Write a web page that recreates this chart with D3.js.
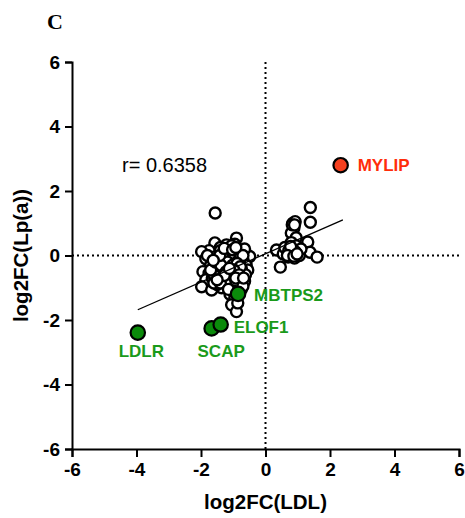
<!DOCTYPE html>
<html><head><meta charset="utf-8">
<script src="https://cdn.jsdelivr.net/npm/d3@7"></script>
<style>body{margin:0;background:#fff}svg{display:block}</style>
</head><body>
<script>
const xTicks = [-6,-4,-2,0,2,4,6];
const yTicks = [-6,-4,-2,0,2,4,6];
const openX = [-1.57,-1.21,-0.90,-0.95,-1.40,-1.75,-1.98,-1.10,-0.75,-0.60,-0.49,
 -1.85,-1.60,-1.35,-1.20,-1.00,-0.85,-0.70,-1.70,-1.50,-1.30,-1.10,-0.95,-0.80,-0.60,-0.55,
 -1.94,-1.75,-1.55,-1.40,-1.25,-1.05,-0.90,-0.70,-1.85,-1.65,-1.45,-1.30,-1.15,-1.00,-0.85,-0.65,
 -1.98,-1.67,-1.36,-1.50,-1.20,-1.05,-0.90,-0.75,-1.10,-0.95,-1.05,-0.90,-0.86,
 -1.20,-1.15,-1.00,-1.35,-1.25,-0.75,-1.60,-0.80,-1.40,-1.05,-0.65,-1.56,
 -1.45,-1.30,-1.15,-1.05,-0.95,-0.85,-0.80,-0.90,-1.10,-1.25,-1.45,-1.35,-1.20,-1.10,-0.95,
 -0.75,-1.60,-1.70,-1.55,-1.05,-0.90,-1.25,-1.40,-0.70,-0.85,-1.00,-1.15,-0.70,-0.62,-1.80,
 -1.32,-1.18,-1.02,-0.88,-0.78,-1.38,-1.22,-1.08,-0.98,-0.82,-1.28,-1.12,-0.92,-1.50,-1.42,-1.28,-1.02,-0.92,-0.68,-1.62,
 1.39,1.39,0.85,0.92,0.88,0.80,0.95,1.31,1.38,1.60,0.46,0.90,0.34,0.55,0.65,0.75,0.85,1.00,1.05,0.70,0.60,0.80,0.95,1.10,
 0.72,0.82,0.92,0.78,0.68,0.88,0.98,0.83,0.90];
const openY = [0.39,0.33,0.54,0.35,0.25,0.15,0.12,0.20,0.15,0.05,-0.03,
 -0.10,-0.05,0.05,-0.05,0.05,-0.05,-0.15,-0.30,-0.25,-0.20,-0.25,-0.20,-0.30,-0.30,-0.45,
 -0.50,-0.55,-0.45,-0.40,-0.45,-0.40,-0.50,-0.55,-0.75,-0.70,-0.65,-0.75,-0.60,-0.70,-0.75,-0.80,
 -0.97,-1.07,-1.00,-0.90,-0.90,-0.95,-1.00,-1.05,-1.20,-1.30,-1.53,-1.74,-1.47,
 -0.15,-0.35,-0.55,-0.55,-0.30,-0.40,-0.85,-0.90,0.15,0.30,0.20,1.32,
 -0.10,-0.35,-0.10,-0.20,-0.35,-0.45,-0.15,0.10,0.05,0.10,-0.50,-0.70,-0.65,-0.75,-0.60,
 -0.70,-0.60,-0.45,-0.20,-0.85,-0.85,-0.85,-0.85,-0.95,-1.15,-1.10,-1.05,0.00,-0.60,0.00,
 -0.05,-0.20,-0.30,-0.25,-0.35,-0.30,-0.50,-0.55,-0.45,-0.60,-0.62,-0.40,-0.70,-0.75,0.00,0.22,0.18,0.25,-0.70,-0.15,
 1.49,1.03,1.00,1.05,0.85,0.70,0.55,0.42,0.10,-0.05,-0.36,-0.08,0.17,0.05,0.20,0.10,0.25,0.15,0.00,-0.05,0.25,0.40,0.30,0.20,
 0.15,0.05,0.12,0.28,0.00,-0.02,0.05,0.95,0.95];
const hiNames = ["MYLIP","LDLR","SCAP","ELOF1","MBTPS2"];
const hiX = [2.33,-3.96,-1.67,-1.39,-0.85];
const hiY = [2.80,-2.39,-2.26,-2.14,-1.19];
const hiGroup = ["up","down","down","down","down"];
const fitSlope = 0.438, fitIntercept = 0.053, fitRange = [-3.96, 2.40];
const rText = "r= 0.6358";

const W=465,H=518;
const svg=d3.select("body").append("svg").attr("width",W).attr("height",H);
const x=d3.scaleLinear().domain([-6,6]).range([72,459]);
const y=d3.scaleLinear().domain([-6,6]).range([449,62]);
const font="Liberation Sans, Arial, Helvetica, sans-serif";

svg.append("text").attr("x",47).attr("y",29).text("C")
 .attr("font-family","Liberation Serif, Times New Roman, serif").attr("font-weight","bold").attr("font-size",22);

svg.append("line").attr("x1",x(0)).attr("x2",x(0)).attr("y1",y(6)).attr("y2",y(-6))
 .attr("stroke","#000").attr("stroke-width",2).attr("stroke-dasharray","2,3");
svg.append("line").attr("x1",x(-6)).attr("x2",x(6)).attr("y1",y(0)).attr("y2",y(0))
 .attr("stroke","#000").attr("stroke-width",2).attr("stroke-dasharray","2,3");

const xa=svg.append("g").attr("transform",`translate(0,${y(-6)})`)
 .call(d3.axisBottom(x).tickValues(xTicks).tickSize(8).tickPadding(6).tickFormat(d3.format("d")));
const ya=svg.append("g").attr("transform",`translate(${x(-6)},0)`)
 .call(d3.axisLeft(y).tickValues(yTicks).tickSize(7).tickPadding(5).tickFormat(d3.format("d")));
[xa,ya].forEach(a=>{
  a.select(".domain").attr("stroke","#000").attr("stroke-width",2);
  a.selectAll(".tick line").attr("stroke","#000").attr("stroke-width",2);
  a.selectAll(".tick text").attr("font-family",font).attr("font-weight","bold").attr("font-size",19).attr("fill","#000");
});
xa.selectAll(".tick text").text(d=>d<0?"-"+Math.abs(d):d);
ya.selectAll(".tick text").text(d=>d<0?"-"+Math.abs(d):d);

svg.append("text").attr("x",x(0)).attr("y",509).attr("text-anchor","middle").text("log2FC(LDL)")
 .attr("font-family",font).attr("font-weight","bold").attr("font-size",20.5);
svg.append("text").attr("transform",`translate(28,${y(0)}) rotate(-90)`).attr("text-anchor","middle").text("log2FC(Lp(a))")
 .attr("font-family",font).attr("font-weight","bold").attr("font-size",20.5);

const pts=openX.map((v,i)=>({x:v,y:openY[i]}));
svg.append("g").selectAll("circle").data(pts).join("circle")
 .attr("cx",d=>x(d.x)).attr("cy",d=>y(d.y)).attr("r",5.5)
 .attr("fill","#fff").attr("stroke","#000").attr("stroke-width",2.4);

svg.append("line").attr("x1",x(fitRange[0])).attr("y1",y(fitSlope*fitRange[0]+fitIntercept))
 .attr("x2",x(fitRange[1])).attr("y2",y(fitSlope*fitRange[1]+fitIntercept))
 .attr("stroke","#000").attr("stroke-width",1.3);

const hi=hiNames.map((n,i)=>({n,x:hiX[i],y:hiY[i],g:hiGroup[i]}));
const fillC={up:"#f5401f",down:"#0b8a0b"};
const textC={up:"#ff2d0a",down:"#1a9a1a"};
svg.append("g").selectAll("circle").data(hi).join("circle")
 .attr("cx",d=>x(d.x)).attr("cy",d=>y(d.y)).attr("r",7.2)
 .attr("fill",d=>fillC[d.g]).attr("stroke","#000").attr("stroke-width",2.2);

const lblOff={MYLIP:[17,0,"start"],LDLR:[3.5,18.5,"middle"],SCAP:[9.5,22.5,"middle"],ELOF1:[13,2.5,"start"],MBTPS2:[16,1,"start"]};
svg.append("g").selectAll("text").data(hi).join("text")
 .attr("x",d=>x(d.x)+lblOff[d.n][0]).attr("y",d=>y(d.y)+lblOff[d.n][1])
 .attr("dy","0.36em").attr("text-anchor",d=>lblOff[d.n][2])
 .attr("fill",d=>textC[d.g]).attr("font-family",font).attr("font-weight","bold").attr("font-size",17)
 .text(d=>d.n);

svg.append("text").attr("x",122).attr("y",172).text(rText)
 .attr("font-family",font).attr("font-size",20).attr("fill","#000");
</script>
</body></html>
